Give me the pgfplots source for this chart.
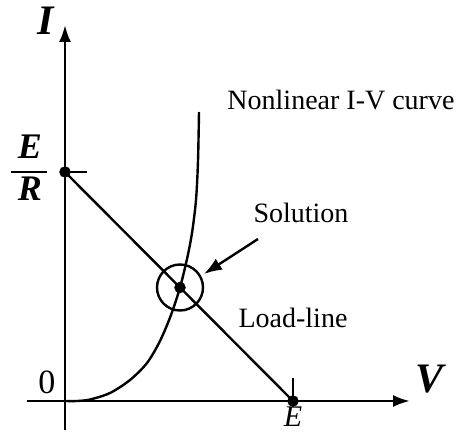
\documentclass[border=0pt]{standalone}
\usepackage{pgfplots}
\pgfplotsset{compat=1.18}
\usepackage{fontspec}
\setmainfont{Liberation Serif}
\usetikzlibrary{arrows.meta}

\begin{document}
\begin{tikzpicture}
\begin{axis}[
    x=1pt, y=1pt,
    xmin=-38, xmax=345,
    ymin=-29, ymax=376,
    axis lines=middle,
    xtick=\empty, ytick=\empty,
    axis line style={line width=2.5pt, -{Latex[length=17pt,width=12pt]}},
    clip=false,
]
% nonlinear I-V curve
\addplot[line width=2.4pt, smooth] coordinates {
    (0,0) (12,0) (25,1.5) (45,8) (65,21) (82,38) (95,60) (106,86) (115,113.5)
    (122,142) (127,168) (131,201) (133,240) (134,289)
};
% load line
\addplot[line width=2.4pt] coordinates {(0,229) (228,0)};
% short ticks at E/R and E
\addplot[line width=2.4pt] coordinates {(0,229) (22,229)};
\addplot[line width=2.4pt] coordinates {(228,0) (228,23)};
% points
\addplot[only marks, mark=*, mark size=5.5pt] coordinates {(0,229) (115,113.5) (228,0)};
\addplot[only marks, mark=o, mark size=23pt, line width=2.4pt] coordinates {(115,113.5)};
% arrow to the solution
\draw[line width=2.4pt, -{Latex[length=18pt,width=13pt]}] (axis cs:193,162) -- (axis cs:139,127);

\node at (axis cs:-19,380) {\fontsize{42}{44}\selectfont\textbf{\textit{I}}};
\node[inner sep=0pt] (fr) at (axis cs:-35,229) {\fontsize{36}{38}\selectfont
  \begin{tabular}{@{\hspace{2pt}}c@{\hspace{2pt}}}\textbf{\textit{E}}\\[4pt]\textbf{\textit{R}}\end{tabular}};
\draw[line width=2.4pt] (axis cs:-54,229) -- (axis cs:-18,229);
\node at (axis cs:-18,19) {\fontsize{34}{36}\selectfont 0};
\node at (axis cs:366,22) {\fontsize{42}{44}\selectfont\textbf{\textit{V}}};
\node[anchor=base, inner sep=0pt] at (axis cs:228,-25) {\fontsize{30}{32}\selectfont\textit{E}};
\node at (axis cs:276,301) {\fontsize{28}{30}\selectfont Nonlinear I-V curve};
\node at (axis cs:236,188) {\fontsize{28}{30}\selectfont Solution};
\node at (axis cs:228,83) {\fontsize{28}{30}\selectfont Load-line};

\coordinate (bl) at (axis cs:-65,-31);
\coordinate (tr) at (axis cs:398,401);
\end{axis}
\pgfresetboundingbox
\path (bl) rectangle (tr);
\end{tikzpicture}
\end{document}
